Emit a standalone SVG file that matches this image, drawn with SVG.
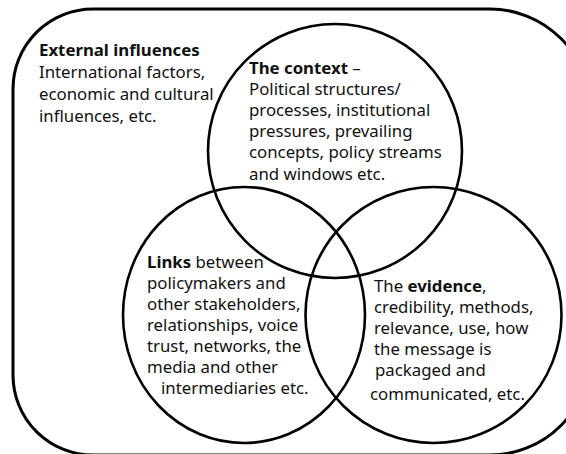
<svg xmlns="http://www.w3.org/2000/svg" width="566" height="454" viewBox="0 0 566 454">
<style>
.shape{fill:none;stroke:#000;stroke-width:2.6}
.outer{fill:none;stroke:#000;stroke-width:3}
text{font-family:"Noto Sans","Open Sans","DejaVu Sans",sans-serif;font-size:16.8px;fill:#111}
.b{font-weight:bold}
</style>
<rect width="566" height="454" fill="#fff"/>
<g id="external">
<path class="outer" d="M93,9 L490,9 A100,100 0 0 1 590,109 L590,355 A100,100 0 0 1 490,455 L93,455 A80,80 0 0 1 13,375 L13,89 A80,80 0 0 1 93,9 Z"/>
<text x="39" y="56" class="b">External influences</text>
<text x="39" y="78">International factors,</text>
<text x="39" y="100">economic and cultural</text>
<text x="39" y="122">influences, etc.</text>
</g>
<g id="context">
<circle class="shape" cx="335" cy="151" r="127"/>
<text x="249" y="74"><tspan class="b">The context</tspan> –</text>
<text x="249" y="95">Political structures/</text>
<text x="249" y="116">processes, institutional</text>
<text x="249" y="137">pressures, prevailing</text>
<text x="249" y="158">concepts, policy streams</text>
<text x="249" y="180">and windows etc.</text>
</g>
<g id="links">
<ellipse class="shape" cx="244" cy="315" rx="121" ry="128"/>
<text x="147" y="268"><tspan class="b">Links</tspan> between</text>
<text x="147" y="289">policymakers and</text>
<text x="147" y="310">other stakeholders,</text>
<text x="147" y="331">relationships, voice</text>
<text x="147" y="352">trust, networks, the</text>
<text x="147" y="373">media and other</text>
<text x="161" y="394">intermediaries etc.</text>
</g>
<g id="evidence">
<circle class="shape" cx="433.5" cy="315" r="128"/>
<text x="374" y="292">The <tspan class="b">evidence</tspan>,</text>
<text x="374" y="313">credibility, methods,</text>
<text x="374" y="334">relevance, use, how</text>
<text x="374" y="355">the message is</text>
<text x="375" y="376">packaged and</text>
<text x="370" y="400">communicated, etc.</text>
</g>
<g id="connectors"></g>
</svg>
